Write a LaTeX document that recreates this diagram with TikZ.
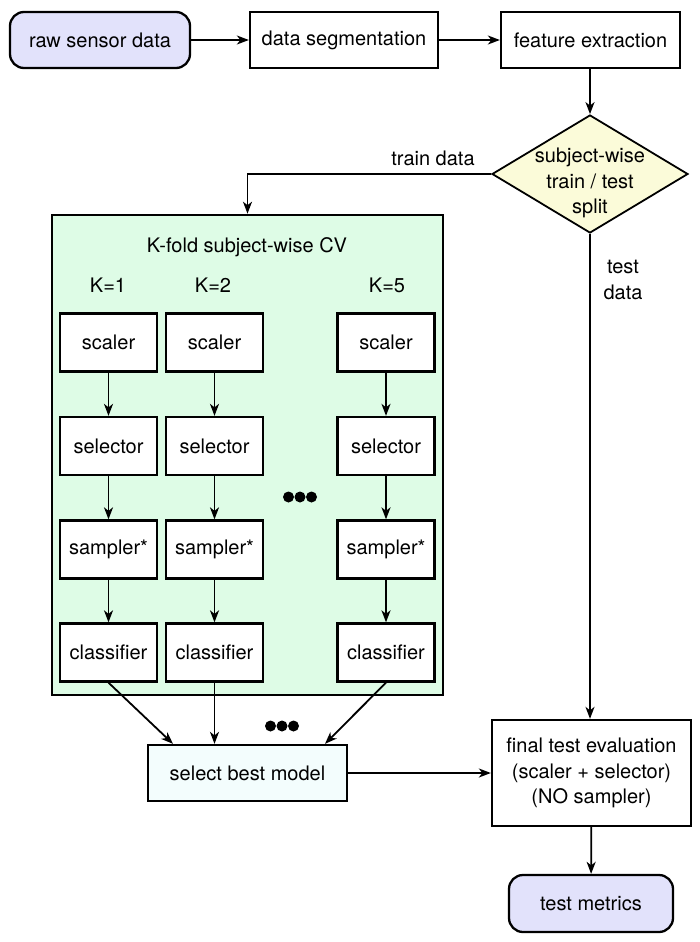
\documentclass[tikz,border=0pt]{standalone}
\usepackage{fontspec}
\setmainfont{TeX Gyre Heros}
\usetikzlibrary{arrows.meta,shapes.geometric,calc}
\definecolor{lav}{HTML}{E2E2FB}
\definecolor{ylw}{HTML}{FBFBD9}
\definecolor{grn}{HTML}{DEFCE6}
\definecolor{cyn}{HTML}{F3FDFD}
\tikzset{
  box/.style={draw=black, line width=2.3pt, fill=white, minimum width=#1, minimum height=56pt, inner sep=0pt, align=center},
  box/.default=188pt,
  term/.style={box=#1, fill=lav, rounded corners=14pt},
  stage/.style={draw=black, line width=2.3pt, fill=white, minimum width=97pt, minimum height=58pt, inner sep=0pt},
  arr/.style={line width=1.8pt, -{Stealth[length=12pt,width=9pt,inset=3.5pt]}},
  lbl/.style={inner sep=0pt, align=center},
  dot/.style={fill=black, circle, inner sep=0pt, minimum size=11pt}
}
\begin{document}
\begin{tikzpicture}[x=1pt,y=-1pt, font=\fontsize{20}{25.5}\selectfont]
\useasboundingbox (0,0) rectangle (700,942);
% top row
\node[term=180pt] (raw) at (100,40) {raw sensor data};
\node[box=188pt] (seg) at (344,40) {data segmentation};
\node[box=179pt] (feat) at (590.5,40) {feature extraction};
% diamond
\node[diamond, draw=black, line width=1.8pt, fill=ylw, inner sep=0pt, minimum width=196pt, minimum height=118pt] (split) at (590,174) {};
\node[lbl] (splittxt) at (590,183) {subject-wise\\train / test\\split};
% CV box
\node[draw=black, line width=2.6pt, fill=grn, minimum width=391pt, minimum height=480pt, inner sep=0pt] (cv) at (247.5,455) {};
\node[lbl] (cvtitle) at (247,247) {K-fold subject-wise CV};
\node[lbl] (k1) at (108,285) {K=1};
\node[lbl] (k2) at (213,285) {K=2};
\node[lbl] (k5) at (387,285) {K=5};
% columns
\foreach \c/\x in {1/108.5, 2/214.5, 3/386}{
  \node[stage] (a\c) at (\x,342.5) {scaler};
  \node[stage] (b\c) at (\x,446) {selector};
  \node[stage] (c\c) at (\x,549.5) {sampler*};
  \node[stage] (d\c) at (\x,652.5) {classifier};
  \draw[arr] (a\c) -- (b\c);
  \draw[arr] (b\c) -- (c\c);
  \draw[arr] (c\c) -- (d\c);
}
% dots
\node[dot] (dA1) at (288.5,497) {};
\node[dot] (dA2) at (300,497) {};
\node[dot] (dA3) at (311.5,497) {};
\node[dot] (dB1) at (270.5,726) {};
\node[dot] (dB2) at (282,726) {};
\node[dot] (dB3) at (293.5,726) {};
% bottom
\node[box=199pt, fill=cyn] (sel) at (247.5,773) {select best model};
\node[box=199pt, minimum height=106pt] (final) at (591.5,773) {final test evaluation\\(scaler + selector)\\(NO sampler)};
\node[term=164pt, minimum height=57pt] (tm) at (591,903.5) {test metrics};
% connectors
\draw[arr] (raw) -- (seg);
\draw[arr] (seg) -- (feat);
\draw[arr] (feat.south -| split.north) -- (split.north);
\draw[arr] (split.west) -| (cv.north);
\node[lbl] (trainlbl) at (433,158) {train data};
\draw[arr] (split.south) -- (split.south |- final.north);
\node[lbl] (testlbl) at (623,280) {test\\data};
\draw[arr] (d1.south) -- ($(sel.north)+(-74.5,0)$);
\draw[arr] (d2.south) -- (d2.south |- sel.north);
\draw[arr] (d3.south) -- ($(sel.north)+(77.5,0)$);
\draw[arr] (sel) -- (final);
\draw[arr] (final) -- (tm);
\end{tikzpicture}
\end{document}
